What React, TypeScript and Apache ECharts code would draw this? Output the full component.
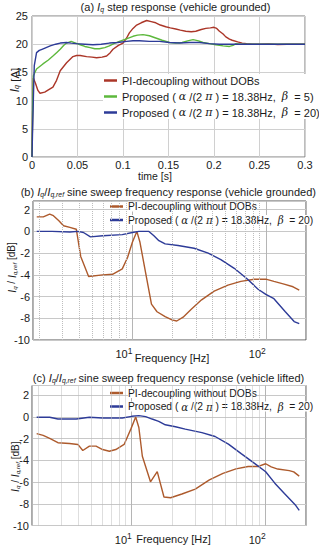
import React, { useEffect, useRef } from 'react';
import * as echarts from 'echarts';

// ---------- Panel (a): Iq step response (vehicle grounded) [time s, Iq A]
const stepPI: number[][] = [[0,0],[0.0008,9],[0.0015,14.0],[0.004,13.0],[0.0065,11.8],[0.0088,11.3],[0.014,11.5],[0.018,11.9],[0.023,12.4],[0.027,13.6],[0.031,15.3],[0.038,16.7],[0.045,17.8],[0.049,18.0],[0.053,18.0],[0.060,17.8],[0.066,17.7],[0.071,17.6],[0.077,17.7],[0.082,17.9],[0.086,18.5],[0.089,19.1],[0.095,19.8],[0.100,20.2],[0.104,21.1],[0.107,22.0],[0.111,22.8],[0.115,23.4],[0.120,23.8],[0.126,24.2],[0.131,24.0],[0.136,23.8],[0.141,23.4],[0.147,23.1],[0.152,22.9],[0.158,22.7],[0.163,22.5],[0.169,22.3],[0.175,22.2],[0.180,22.3],[0.186,22.6],[0.191,22.8],[0.196,22.9],[0.200,23.0],[0.203,22.8],[0.206,22.3],[0.210,21.8],[0.213,21.3],[0.217,20.9],[0.220,20.7],[0.226,20.4],[0.231,20.2],[0.236,20.1],[0.242,20.0],[0.25,20.0],[0.26,20.05],[0.27,19.95],[0.28,20.0],[0.29,20.0],[0.3,20.0]];
const stepB5: number[][] = [[0,0],[0.0008,10],[0.0015,14.4],[0.005,15.6],[0.012,16.5],[0.018,17.2],[0.023,17.9],[0.027,18.5],[0.031,19.1],[0.035,19.8],[0.038,20.2],[0.043,20.5],[0.048,20.2],[0.053,19.9],[0.058,19.6],[0.064,19.4],[0.069,19.2],[0.074,19.2],[0.080,19.4],[0.085,19.7],[0.090,20.1],[0.096,20.5],[0.103,20.9],[0.111,21.4],[0.116,21.6],[0.122,21.7],[0.129,21.5],[0.136,21.1],[0.143,20.7],[0.151,20.3],[0.158,20.2],[0.165,20.3],[0.171,20.6],[0.177,20.8],[0.183,20.6],[0.188,20.3],[0.195,20.1],[0.202,19.9],[0.210,19.7],[0.217,19.6],[0.221,19.8],[0.224,20.1],[0.23,20.0],[0.24,20.0],[0.26,20.0],[0.28,20.0],[0.3,20.0]];
const stepB20: number[][] = [[0,0],[0.0008,6],[0.0015,10.3],[0.0025,16.2],[0.005,18.5],[0.008,18.9],[0.011,19.1],[0.020,19.7],[0.026,20.0],[0.031,20.2],[0.038,20.3],[0.043,20.2],[0.049,20.1],[0.058,20.0],[0.067,19.9],[0.076,20.0],[0.085,20.2],[0.094,20.3],[0.104,20.5],[0.111,20.6],[0.118,20.6],[0.129,20.5],[0.140,20.5],[0.151,20.3],[0.162,20.2],[0.173,20.3],[0.184,20.3],[0.195,20.1],[0.206,20.0],[0.22,20.0],[0.24,20.0],[0.26,20.0],[0.28,20.0],[0.3,20.0]];

// ---------- Panel (b): sine sweep, vehicle grounded [Hz, dB]
const groundPI: number[][] = [[1.92,1.34],[2.15,1.34],[2.4,1.6],[2.56,1.45],[2.8,1.0],[3.05,0.52],[3.4,0.37],[3.8,0.2],[4.1,-2.3],[4.7,-4.15],[6.0,-4.0],[7.1,-3.95],[8.4,-3.45],[9.2,-2.4],[10,-1.0],[10.8,0],[11.4,-1.0],[12.3,-3.2],[13.9,-6.7],[15.3,-7.4],[17.6,-7.85],[19.8,-8.15],[21.5,-8.25],[24,-7.9],[27.5,-7.2],[33,-6.3],[41,-5.5],[52,-4.95],[65,-4.6],[82,-4.4],[100,-4.4],[115,-4.6],[137,-4.85],[160,-5.1],[178,-5.4]];
const groundB20: number[][] = [[1.92,0],[2.5,0],[3.4,-0.05],[3.9,0],[4.3,-0.1],[4.85,-0.5],[6,-0.4],[8.4,-0.3],[10,-0.1],[11.2,0],[13.3,0],[14.5,-0.4],[15.8,-0.85],[17.6,-1.15],[22,-1.3],[29,-1.55],[37,-2.0],[46,-2.6],[58,-3.4],[73,-4.4],[87,-5.3],[100,-5.8],[115,-6.2],[140,-7.4],[163,-8.3],[178,-8.5]];

// ---------- Panel (c): sine sweep, vehicle lifted [Hz, dB]
const liftPI: number[][] = [[1.95,-1.53],[2.18,-1.69],[2.44,-1.97],[2.81,-2.37],[3.43,-2.44],[3.96,-2.53],[4.31,-3.09],[4.83,-2.69],[5.41,-2.69],[6.06,-3.0],[6.8,-3.16],[7.6,-3.0],[8.77,-2.53],[9.84,-1.12],[10.7,0],[11.3,-0.97],[12.0,-3.62],[13.8,-5.97],[15.5,-5.03],[17.4,-7.37],[19.5,-7.44],[23.7,-7.1],[29.8,-6.65],[38,-5.8],[48,-5.19],[60,-4.78],[74,-4.56],[88,-4.56],[100,-4.31],[110,-4.6],[123,-4.8],[150,-4.94],[162,-5.06],[178,-5.45]];
const liftB20: number[][] = [[1.95,-0.03],[2.44,-0.03],[2.81,-0.19],[3.85,-0.19],[4.83,-0.03],[6.06,-0.1],[8.5,-0.1],[10,0.06],[11.3,0.12],[12.7,0.03],[14.2,-0.19],[15.9,-0.4],[17.8,-0.72],[21.2,-0.9],[25.1,-1.12],[33.4,-1.44],[41.9,-1.8],[52.7,-2.5],[66,-3.4],[83,-4.3],[100,-5.05],[117,-6.1],[138,-7.06],[168,-8.16],[178,-8.6]];

const minorFreqs: number[] = [2,3,4,5,6,7,8,9,20,30,40,50,60,70,80,90];

const LABELS: Record<string, string> = {
  aPI: 'PI-decoupling without DOBs',
  aB5: 'Proposed ( {g|α} /(2 {g|π} ) = 18.38Hz,  {g|β}  = 5)',
  aB20: 'Proposed ( {g|α} /(2 {g|π} ) = 18.38Hz,  {g|β}  = 20)',
  bPI: 'PI-decoupling without DOBs',
  bB20: 'Proposed ( {g|α} /(2 {g|π} ) = 18.38Hz,  {g|β}  = 20)',
  cPI: 'PI-decoupling without DOBs',
  cB20: 'Proposed ( {g|α} /(2 {g|π} ) = 18.38Hz,  {g|β}  = 20)',
};

const FONT = 'Liberation Sans, Arial, sans-serif';
const RED_A = '#ab3628';
const RED_B = '#ad5a2c';
const GREEN = '#5db83c';
const BLUE = '#2d3b98';

function legendOpt(names: string[], left: number, top: number, fs: number, gap: number, bg: boolean) {
  return {
    data: names,
    orient: 'vertical',
    left, top,
    itemWidth: 13, itemHeight: 2.5, itemGap: gap,
    icon: 'rect',
    padding: bg ? [1, 2, 1, 1] : 0,
    backgroundColor: bg ? '#fff' : 'transparent',
    selectedMode: false,
    formatter: (n: string) => LABELS[n],
    textStyle: {
      fontSize: fs, fontFamily: FONT, color: '#1a1a1a',
      backgroundColor: bg ? 'transparent' : '#fff',
      rich: { g: { fontSize: fs, fontFamily: 'DejaVu Serif, serif', fontStyle: 'italic', color: '#1a1a1a' } },
    },
  };
}

const sup = (v: number) => {
  const l = Math.log10(v);
  if (Math.abs(l - Math.round(l)) < 1e-6 && Math.round(l) >= 1) return '{b|10}{s|' + Math.round(l) + '}';
  return '';
};

function logXAxis(grid: number) {
  return {
    gridIndex: grid, type: 'log', logBase: 10, min: 1.8, max: 200,
    axisLine: { show: false }, axisTick: { show: false }, minorTick: { show: false },
    axisLabel: {
      formatter: sup, margin: 6, align: 'right',
      rich: {
        b: { fontSize: 11, fontFamily: FONT, color: '#1a1a1a' },
        s: { fontSize: 8.5, fontFamily: FONT, color: '#1a1a1a', padding: [0, 0, 7, 0] },
      },
    },
    splitLine: { show: true, lineStyle: { color: '#b5b5b5', width: 1 } },
  };
}

function dbYAxis(grid: number, max: number) {
  return {
    gridIndex: grid, type: 'value', min: -10, max, interval: 2,
    axisLine: { show: false }, axisTick: { show: false },
    axisLabel: {
      fontSize: 11, fontFamily: FONT, color: '#1a1a1a', margin: 3,
      formatter: (v: number) => (Math.abs(v - Math.round(v)) < 1e-6 && Math.round(v) % 2 === 0 ? String(Math.round(v)) : ''),
    },
    splitLine: { show: true, lineStyle: { color: '#c8c8c8', width: 1 } },
  };
}

function line(name: string, data: number[][], color: string, xi: number, yi: number, w = 1.4) {
  return {
    name, type: 'line', data, xAxisIndex: xi, yAxisIndex: yi,
    showSymbol: false, symbol: 'none', z: 3,
    itemStyle: { color }, lineStyle: { color, width: w },
  };
}

function minorGrid(xi: number, yi: number) {
  return {
    name: 'minor' + xi, type: 'line', data: [], xAxisIndex: xi, yAxisIndex: yi, z: 1,
    markLine: {
      silent: true, symbol: 'none', animation: false,
      label: { show: false },
      lineStyle: { color: '#bdbdbd', type: 'dotted', width: 1 },
      data: minorFreqs.map((f) => ({ xAxis: f })),
    },
  };
}

function txt(text: string, x: number, y: number, fs: number, rot = 0, fw: any = 'normal') {
  return {
    type: 'text', x, y, rotation: rot, silent: true,
    style: {
      text, fontSize: fs, fontFamily: FONT, fill: '#1a1a1a', fontWeight: fw,
      align: 'center', verticalAlign: 'middle',
      rich: {
        i: { fontSize: fs + 0.5, fontFamily: FONT, fontStyle: 'italic', fill: '#1a1a1a' },
        s: { fontSize: fs * 0.62, fontFamily: FONT, fontStyle: 'italic', fill: '#1a1a1a', padding: [5, 0, 0, 0] },
      },
    },
  };
}

export default function App() {
  const ref = useRef<HTMLDivElement>(null);
  useEffect(() => {
    if (!ref.current) return;
    const chart = echarts.init(ref.current, undefined, { renderer: 'svg' });
    chart.setOption({
      animation: false,
      backgroundColor: '#fff',
      grid: [
        { left: 32, top: 16, width: 273, height: 141, show: true, borderColor: '#7a7a7a', borderWidth: 1 },
        { left: 33, top: 201, width: 273, height: 139, show: true, borderColor: '#555', borderWidth: 1 },
        { left: 32, top: 385.5, width: 274, height: 140, show: true, borderColor: '#555', borderWidth: 1 },
      ],
      xAxis: [
        {
          gridIndex: 0, type: 'value', min: 0, max: 0.3, interval: 0.05,
          axisLine: { show: false }, axisTick: { show: false },
          axisLabel: { fontSize: 11, fontFamily: FONT, color: '#1a1a1a', margin: 2 },
          splitLine: { show: true, lineStyle: { color: '#d0d0d0' } },
        },
        logXAxis(1),
        logXAxis(2),
      ],
      yAxis: [
        {
          gridIndex: 0, type: 'value', min: 0, max: 25, interval: 5,
          axisLine: { show: false }, axisTick: { show: false },
          axisLabel: { fontSize: 11, fontFamily: FONT, color: '#1a1a1a', margin: 4 },
          splitLine: { show: true, lineStyle: { color: '#d0d0d0' } },
        },
        dbYAxis(1, 2.8),
        dbYAxis(2, 2.9),
      ],
      legend: [
        legendOpt(['aPI', 'aB5', 'aB20'], 103, 74, 11, 5, true),
        legendOpt(['bPI', 'bB20'], 110, 201.5, 10.3, 3.5, false),
        legendOpt(['cPI', 'cB20'], 110, 388, 10.3, 3.5, false),
      ],
      series: [
        line('aPI', stepPI, RED_A, 0, 0),
        line('aB5', stepB5, GREEN, 0, 0),
        line('aB20', stepB20, BLUE, 0, 0),
        minorGrid(1, 1),
        line('bPI', groundPI, RED_B, 1, 1),
        line('bB20', groundB20, BLUE, 1, 1),
        minorGrid(2, 2),
        line('cPI', liftPI, RED_B, 2, 2),
        line('cB20', liftB20, BLUE, 2, 2),
      ],
      graphic: [
        txt('(a) {i|I}{s|q} step response (vehicle grounded)', 175.5, 7, 11),
        txt('(b) {i|I}{s|q}/{i|I}{s|q,ref} sine sweep frequency response (vehicle grounded)', 168.3, 192, 11),
        txt('(c) {i|I}{s|q}/{i|I}{s|q,ref} sine sweep frequency response (vehicle lifted)', 168.5, 377.7, 11),
        txt('{i|I}{s|q} [A]', 14.5, 80, 11.5, Math.PI / 2),
        txt('{i|I}{s|q} / {i|I}{s|q,ref} [dB]', 11.7, 267.5, 10, Math.PI / 2),
        txt('{i|I}{s|q} / {i|I}{s|q,ref} [dB]', 15, 466.7, 10, Math.PI / 2),
        txt('time [s]', 155, 175.5, 10.5),
        txt('Frequency [Hz]', 172, 358, 11),
        txt('Frequency [Hz]', 173.5, 538.5, 11),
      ],
    });
    return () => chart.dispose();
  }, []);
  return <div ref={ref} style={{ position: 'fixed', left: 0, top: 0, width: 319, height: 550 }} />;
}
